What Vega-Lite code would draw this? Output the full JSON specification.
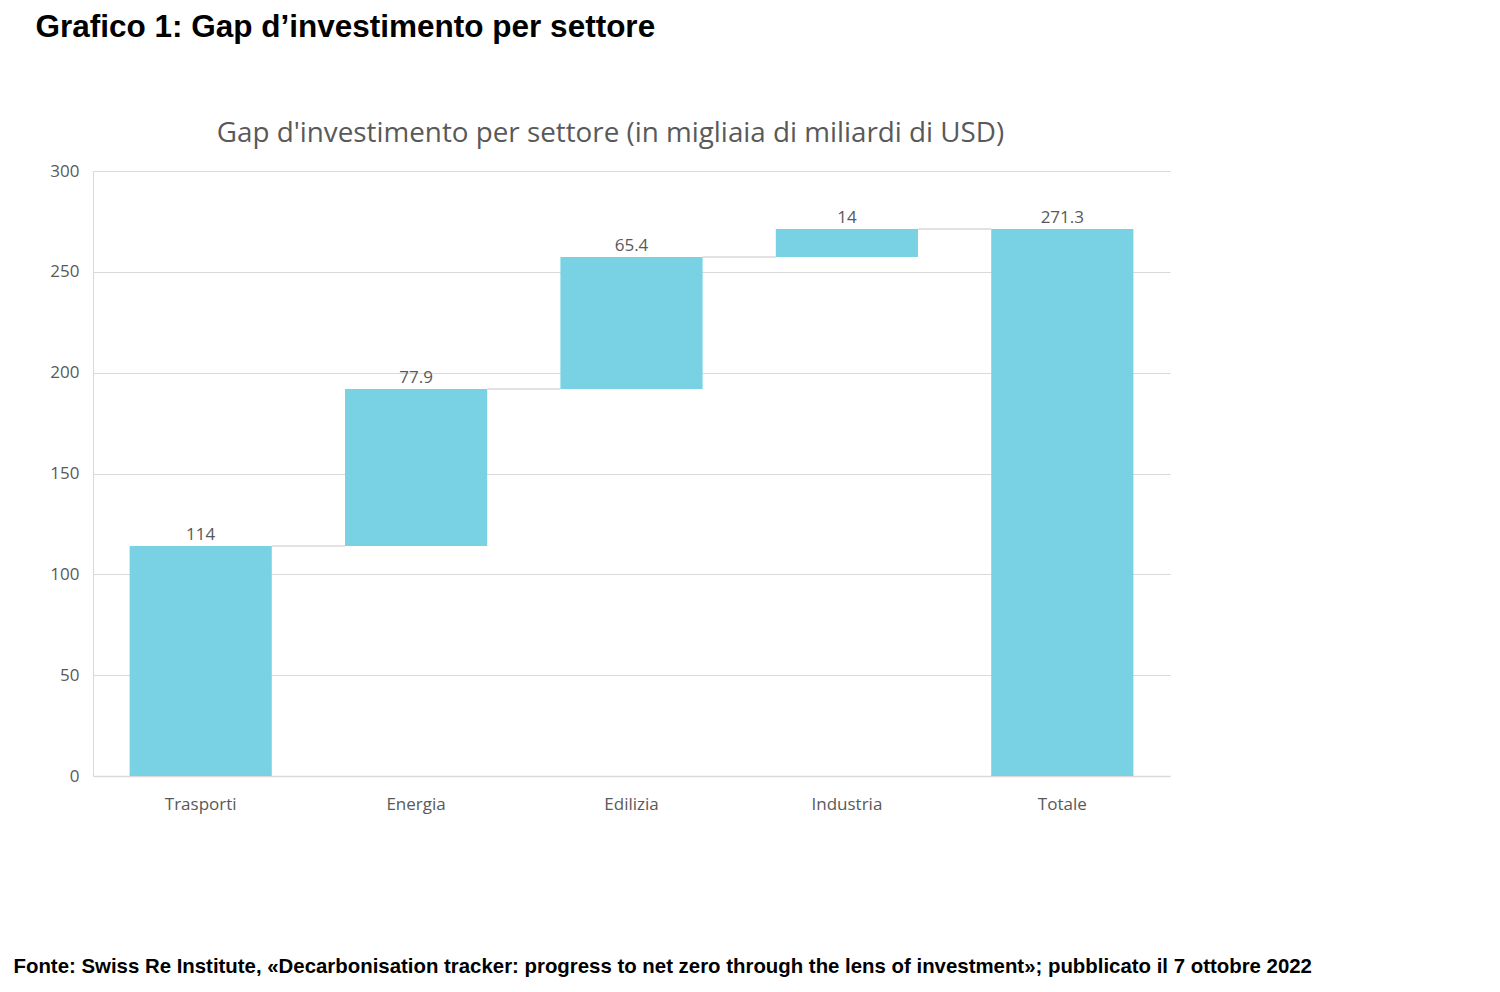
{
  "$schema": "https://vega.github.io/schema/vega-lite/v6.json",
  "width": 1077,
  "height": 605,
  "autosize": {"type": "none"},
  "padding": {"left": 93, "top": 171, "right": 330, "bottom": 216},
  "background": "white",
  "config": {"view": {"stroke": null}, "font": "Open Sans"},
  "data": {
    "values": [
      {"sector": "Trasporti", "start": 0, "end": 114, "next": "Energia", "label": "114"},
      {"sector": "Energia", "start": 114, "end": 191.9, "next": "Edilizia", "label": "77.9"},
      {"sector": "Edilizia", "start": 191.9, "end": 257.3, "next": "Industria", "label": "65.4"},
      {"sector": "Industria", "start": 257.3, "end": 271.3, "next": "Totale", "label": "14"},
      {"sector": "Totale", "start": 0, "end": 271.3, "label": "271.3"}
    ]
  },
  "layer": [
    {
      "transform": [{"filter": "datum.next != null"}],
      "mark": {"type": "rule", "color": "#d9d9d9", "strokeWidth": 1.5},
      "encoding": {
        "x": {
          "field": "sector", "type": "nominal", "bandPosition": 1,
          "sort": ["Trasporti", "Energia", "Edilizia", "Industria", "Totale"],
          "scale": {"paddingInner": 0.34, "paddingOuter": 0.17},
          "axis": {
            "orient": "top", "labels": false, "ticks": false, "domain": false, "grid": false,
            "title": "Gap d'investimento per settore (in migliaia di miliardi di USD)",
            "titleFont": "Open Sans", "titleFontWeight": "normal", "titleFontSize": 27.8,
            "titleColor": "#595959", "titleX": 517, "titleY": -38, "titleAlign": "center", "titleBaseline": "middle"
          }
        },
        "x2": {"field": "next", "bandPosition": 0},
        "y": {
          "field": "end", "type": "quantitative",
          "scale": {"domain": [0, 300], "nice": false},
          "axis": {
            "values": [0, 50, 100, 150, 200, 250, 300], "grid": true, "gridColor": "#d9d9d9",
            "domain": true, "domainColor": "#d9d9d9", "ticks": false, "labelPadding": 14,
            "labelColor": "#595959", "labelFontSize": 17, "labelFont": "Open Sans",
            "title": "Grafico 1: Gap d’investimento per settore", "titleAngle": 0, "titleAlign": "left",
            "titleBaseline": "middle", "titleX": -58, "titleY": -144, "titleFont": "Liberation Sans",
            "titleFontWeight": "bold", "titleFontSize": 31.5, "titleColor": "#000000"
          }
        }
      }
    },
    {
      "mark": {"type": "bar", "color": "#78d2e4"},
      "encoding": {
        "x": {
          "field": "sector", "type": "nominal",
          "sort": ["Trasporti", "Energia", "Edilizia", "Industria", "Totale"],
          "axis": {
            "orient": "bottom", "labelAngle": 0, "labelPadding": 20, "ticks": false,
            "domain": true, "domainColor": "#d9d9d9", "domainWidth": 1.5, "grid": false,
            "labelFontSize": 17, "labelColor": "#595959", "labelFont": "Open Sans",
            "title": "Fonte: Swiss Re Institute, «Decarbonisation tracker: progress to net zero through the lens of investment»; pubblicato il 7 ottobre 2022",
            "titleX": -80, "titleY": 190, "titleAlign": "left", "titleBaseline": "middle",
            "titleFont": "Liberation Sans", "titleFontWeight": "bold", "titleFontSize": 20.4, "titleColor": "#000000"
          }
        },
        "y": {
          "field": "end", "type": "quantitative",
          "scale": {"domain": [0, 300], "nice": false},
          "axis": {
            "values": [0, 50, 100, 150, 200, 250, 300], "grid": true, "gridColor": "#d9d9d9",
            "domain": true, "domainColor": "#d9d9d9", "ticks": false, "labelPadding": 14,
            "labelColor": "#595959", "labelFontSize": 17, "labelFont": "Open Sans",
            "title": "Grafico 1: Gap d’investimento per settore", "titleAngle": 0, "titleAlign": "left",
            "titleBaseline": "middle", "titleX": -58, "titleY": -144, "titleFont": "Liberation Sans",
            "titleFontWeight": "bold", "titleFontSize": 31.5, "titleColor": "#000000"
          }
        },
        "y2": {"field": "start"}
      }
    },
    {
      "mark": {"type": "text", "dy": -6, "baseline": "alphabetic", "fontSize": 17, "color": "#595959", "font": "Open Sans"},
      "encoding": {
        "x": {
          "field": "sector", "type": "nominal",
          "sort": ["Trasporti", "Energia", "Edilizia", "Industria", "Totale"],
          "axis": null
        },
        "y": {
          "field": "end", "type": "quantitative",
          "scale": {"domain": [0, 300], "nice": false},
          "axis": {
            "values": [0, 50, 100, 150, 200, 250, 300], "grid": true, "gridColor": "#d9d9d9",
            "domain": true, "domainColor": "#d9d9d9", "ticks": false, "labelPadding": 14,
            "labelColor": "#595959", "labelFontSize": 17, "labelFont": "Open Sans",
            "title": "Grafico 1: Gap d’investimento per settore", "titleAngle": 0, "titleAlign": "left",
            "titleBaseline": "middle", "titleX": -58, "titleY": -144, "titleFont": "Liberation Sans",
            "titleFontWeight": "bold", "titleFontSize": 31.5, "titleColor": "#000000"
          }
        },
        "text": {"field": "label"}
      }
    }
  ],
  "resolve": {"axis": {"x": "independent"}}
}
